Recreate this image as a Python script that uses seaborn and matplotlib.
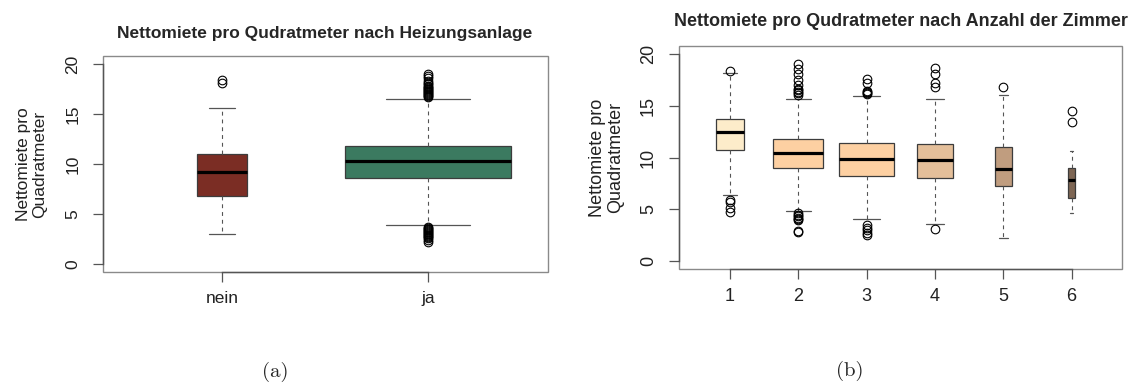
import matplotlib
matplotlib.use("Agg")
import matplotlib.pyplot as plt
import pandas as pd
import seaborn as sns

# --- Nettomiete pro m² nach Heizungsanlage -------------------------------
heiz_levels = ["nein", "ja"]
heiz_q1 = [6.83, 8.63]
heiz_median = [9.23, 10.27]
heiz_q3 = [11.03, 11.83]
heiz_whisker_lo = [2.97, 3.93]
heiz_whisker_hi = [15.57, 16.50]
heiz_outliers = [
    [18.13, 18.40],
    [16.70, 16.80, 16.90, 17.00, 17.10, 17.20, 17.30, 17.40, 17.50, 17.60,
     17.70, 17.80, 18.00, 18.10, 18.30, 18.60, 18.80, 19.05,
     2.20, 2.40, 2.60, 2.75, 2.85, 2.95, 3.05, 3.15, 3.25, 3.35, 3.45,
     3.55, 3.65, 3.75],
]

# --- Nettomiete pro m² nach Anzahl der Zimmer ----------------------------
zimmer_levels = ["1", "2", "3", "4", "5", "6"]
zimmer_q1 = [10.74, 9.00, 8.23, 8.04, 7.23, 6.11]
zimmer_median = [12.44, 10.45, 9.90, 9.80, 8.87, 7.78]
zimmer_q3 = [13.76, 11.83, 11.38, 11.32, 11.00, 8.94]
zimmer_whisker_lo = [6.37, 4.82, 4.02, 3.60, 2.22, 4.60]
zimmer_whisker_hi = [18.17, 15.69, 15.98, 15.69, 16.04, 10.67]
zimmer_outliers = [
    [18.42, 5.90, 5.70, 5.15, 4.70],
    [16.10, 16.20, 16.35, 16.50, 16.60, 17.00, 17.50, 18.10, 18.60, 19.05,
     4.60, 4.45, 4.30, 4.15, 4.00, 3.90, 2.90, 2.75],
    [16.15, 16.25, 16.35, 16.45, 17.25, 17.60, 3.45, 3.20, 2.95, 2.70, 2.50],
    [16.85, 17.20, 18.10, 18.70, 3.06],
    [16.82],
    [13.40, 14.47],
]

# box appearance (R-style varwidth boxes)
heiz_colors = ["#7b2d24", "#3b7a60"]
heiz_widths = [0.243, 0.806]
zimmer_colors = ["#fdecca", "#fdd0a2", "#fdd0a2", "#e4bf9a", "#c09d7f", "#7e6654"]
zimmer_widths = [0.41, 0.735, 0.80, 0.52, 0.25, 0.11]


def build_table(levels, q1, med, q3, lo, hi, outliers, reps=200):
    """Long table whose quartiles / whisker ends equal the given summaries."""
    rows = []
    for i, lvl in enumerate(levels):
        vals = ([lo[i]] + [q1[i]] * reps + [med[i]] * reps + [q3[i]] * reps
                + [hi[i]] + list(outliers[i]))
        rows.extend((lvl, v) for v in vals)
    return pd.DataFrame(rows, columns=["gruppe", "miete"])


sns.set_style("white")
plt.rcParams["font.family"] = ["Liberation Sans", "DejaVu Sans"]

FRAME = "#8a8a8a"
AXLINE = "#555555"
BOXLINE = "#3c3c3c"


def draw_panel(ax, df, levels, colors, widths, title, fs, title_pad):
    for lvl, col, w in zip(levels, colors, widths):
        sns.boxplot(
            data=df[df["gruppe"] == lvl], x="gruppe", y="miete",
            order=levels, color=col, width=w, saturation=1, whis=1.5,
            linecolor=BOXLINE, linewidth=0.9, ax=ax,
            whiskerprops=dict(color="#555555", linestyle=(0, (3.5, 3.5)),
                              linewidth=0.8),
            capprops=dict(color="#555555", linewidth=0.9),
            medianprops=dict(color="black", linewidth=2.3),
            flierprops=dict(marker="o", markersize=6.2,
                            markerfacecolor="none", markeredgecolor="black",
                            markeredgewidth=0.8),
        )
    n = len(levels)
    pad = 0.04 * n
    ax.set_xlim(-0.5 - pad, n - 0.5 + pad)
    ax.set_ylim(-0.8, 20.8)
    ax.set_yticks([0, 5, 10, 15, 20])
    ax.set_xticks(range(n))
    ax.set_xticklabels(levels)

    # light plot frame, with darker axis lines spanning only the tick range
    ax.patch.set_edgecolor(FRAME)
    ax.patch.set_linewidth(1.0)
    ax.spines["top"].set_visible(False)
    ax.spines["right"].set_visible(False)
    ax.spines["left"].set_visible(True)
    ax.spines["bottom"].set_visible(True)
    ax.spines["left"].set_bounds(0, 20)
    ax.spines["bottom"].set_bounds(0, n - 1)
    for side in ("left", "bottom"):
        ax.spines[side].set_color(AXLINE)
        ax.spines[side].set_linewidth(1.0)

    ax.tick_params(axis="y", left=True, length=7, width=0.9, color=AXLINE,
                   labelsize=fs, labelrotation=90, pad=9, labelcolor="#222222")
    ax.tick_params(axis="x", bottom=True, length=7, width=0.9, color=AXLINE,
                   labelsize=fs, pad=7, labelcolor="#222222")
    for lab in ax.get_yticklabels():
        lab.set_va("center")
    ax.set_xlabel("")
    ax.set_ylabel("Nettomiete pro\nQuadratmeter", fontsize=fs,
                  color="#222222", linespacing=1.1)
    ax.yaxis.set_label_coords(-0.124, 0.5)
    ax.set_title(title, fontsize=fs, fontweight="bold", pad=title_pad)


fig = plt.figure(figsize=(11.37, 3.89), dpi=100)
W, H = 1137, 389
ax_a = fig.add_axes([102.5 / W, 1 - 272 / H, 445 / W, 216 / H])
ax_b = fig.add_axes([679.2 / W, 1 - 269 / H, 443 / W, 223 / H])

df_heiz = build_table(heiz_levels, heiz_q1, heiz_median, heiz_q3,
                      heiz_whisker_lo, heiz_whisker_hi, heiz_outliers)
df_zimmer = build_table(zimmer_levels, zimmer_q1, zimmer_median, zimmer_q3,
                        zimmer_whisker_lo, zimmer_whisker_hi, zimmer_outliers)

draw_panel(ax_a, df_heiz, heiz_levels, heiz_colors, heiz_widths,
           "Nettomiete pro Qudratmeter nach Heizungsanlage", 12.5, 13)
draw_panel(ax_b, df_zimmer, zimmer_levels, zimmer_colors, zimmer_widths,
           "Nettomiete pro Qudratmeter nach Anzahl der Zimmer", 13, 14.5)

fig.text(275 / W, 1 - 372 / H, "(a)", ha="center", va="center",
         fontsize=15, family="cmr10")
fig.text(849.5 / W, 1 - 371 / H, "(b)", ha="center", va="center",
         fontsize=15, family="cmr10")

fig.savefig("out.png", dpi=100, facecolor="white")
